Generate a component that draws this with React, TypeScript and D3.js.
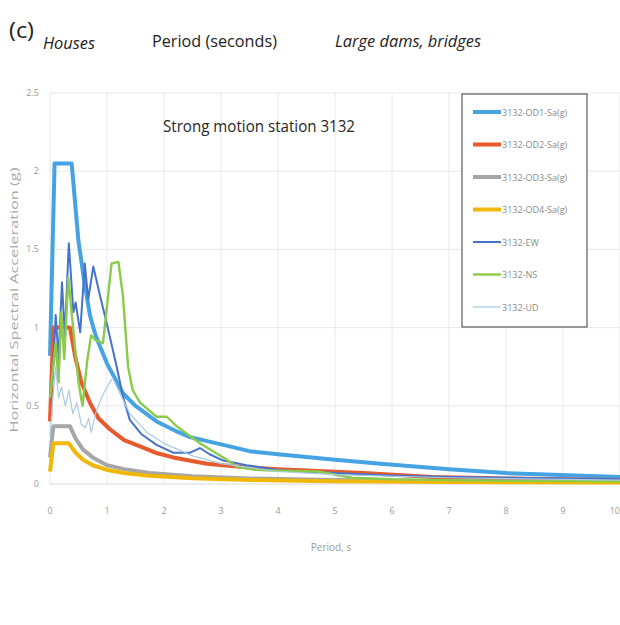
import * as d3 from "d3";
import React, { useEffect, useRef } from "react";

// spectra: [period (s), Sa (g)]
const od1 = [
  [0, 0.82], [0.08, 2.05], [0.38, 2.05], [0.5, 1.55], [0.6, 1.3], [0.7, 1.08], [0.8, 0.95],
  [1.0, 0.77], [1.28, 0.58], [1.5, 0.5], [1.87, 0.4], [2.2, 0.34], [2.46, 0.3], [3.04, 0.25],
  [3.5, 0.21], [4, 0.19], [5, 0.155], [5.8, 0.13], [7, 0.095], [8, 0.07], [8.7, 0.06], [10, 0.045],
];
const od2 = [
  [0, 0.4], [0.06, 1.0], [0.35, 1.0], [0.45, 0.8], [0.55, 0.65], [0.7, 0.52], [0.85, 0.42],
  [1.05, 0.35], [1.3, 0.28], [1.58, 0.24], [1.85, 0.2], [2.16, 0.17], [2.75, 0.13], [3.33, 0.11],
  [4, 0.095], [4.9, 0.08], [5.5, 0.07], [6.7, 0.045], [8, 0.035], [10, 0.025],
];
const od3 = [
  [0, 0.17], [0.06, 0.37], [0.35, 0.37], [0.45, 0.29], [0.58, 0.22], [0.75, 0.17], [1.0, 0.12],
  [1.3, 0.095], [1.75, 0.07], [2.5, 0.05], [3.5, 0.035], [5, 0.025], [7, 0.017], [10, 0.012],
];
const od4 = [
  [0, 0.08], [0.06, 0.26], [0.33, 0.26], [0.45, 0.2], [0.58, 0.155], [0.75, 0.12], [1.0, 0.09],
  [1.3, 0.07], [1.75, 0.052], [2.5, 0.036], [3.5, 0.026], [5, 0.018], [7, 0.013], [10, 0.009],
];
const ew = [
  [0, 0.55], [0.05, 0.7], [0.1, 1.08], [0.15, 0.8], [0.21, 1.29], [0.26, 0.95], [0.33, 1.54],
  [0.41, 1.1], [0.45, 1.16], [0.53, 0.97], [0.61, 1.41], [0.67, 1.18], [0.76, 1.39], [0.88, 1.2],
  [1.0, 1.02], [1.17, 0.75], [1.28, 0.56], [1.4, 0.41], [1.6, 0.32], [1.87, 0.25], [2.16, 0.2],
  [2.46, 0.2], [2.63, 0.23], [2.8, 0.19], [3.04, 0.15], [3.45, 0.12], [4, 0.09], [5, 0.07],
  [6, 0.055], [7, 0.045], [8, 0.04], [9, 0.035], [10, 0.03],
];
const ns = [
  [0, 0.55], [0.1, 0.9], [0.15, 0.65], [0.2, 1.1], [0.25, 0.8], [0.32, 1.32], [0.41, 0.98],
  [0.5, 0.65], [0.57, 0.5], [0.65, 0.78], [0.72, 0.95], [0.8, 0.92], [0.93, 0.9], [1.08, 1.41],
  [1.2, 1.42], [1.28, 1.2], [1.37, 0.75], [1.45, 0.6], [1.58, 0.52], [1.87, 0.43], [2.05, 0.43],
  [2.22, 0.37], [2.63, 0.26], [3.04, 0.17], [3.28, 0.11], [3.6, 0.09], [4, 0.085], [4.7, 0.08],
  [5.3, 0.04], [6, 0.03], [7, 0.025], [8, 0.02], [10, 0.018],
];
const ud = [
  [0, 0.3], [0.05, 0.55], [0.1, 0.75], [0.15, 0.55], [0.2, 0.62], [0.27, 0.5], [0.33, 0.6],
  [0.4, 0.45], [0.47, 0.52], [0.55, 0.38], [0.62, 0.36], [0.68, 0.42], [0.72, 0.33], [0.8, 0.45],
  [0.9, 0.55], [1.0, 0.62], [1.1, 0.68], [1.2, 0.6], [1.4, 0.45], [1.7, 0.33], [2, 0.26],
  [2.5, 0.18], [3, 0.13], [4, 0.08], [5, 0.06], [7, 0.04], [10, 0.025],
];

const seriesNames = [
  "3132-OD1-Sa(g)", "3132-OD2-Sa(g)", "3132-OD3-Sa(g)", "3132-OD4-Sa(g)",
  "3132-EW", "3132-NS", "3132-UD",
];
const seriesData = [od1, od2, od3, od4, ew, ns, ud];
const seriesColors = ["#45a3e3", "#e8592b", "#a6a6a6", "#f1b705", "#4673c8", "#8bcb4c", "#a9c9e6"];
const seriesWidths = [4, 4, 4, 4, 2, 2.4, 1.2];

const xTicks = [0, 1, 2, 3, 4, 5, 6, 7, 8, 9, 10];
const yTicks = [0, 0.5, 1, 1.5, 2, 2.5];
const yTickLabels = ["0", "0.5", "1", "1.5", "2", "2.5"];

export default function App() {
  const svgRef = useRef(null);

  useEffect(() => {
    const W = 620, H = 625;
    const svg = d3.select(svgRef.current).attr("width", W).attr("height", H);
    svg.selectAll("*").remove();

    svg.append("rect").attr("width", W).attr("height", H).attr("fill", "#ffffff");

    const x = d3.scaleLinear().domain([0, 10]).range([50, 620]);
    const y = d3.scaleLinear().domain([0, 2.5]).range([484, 93]);

    // header
    const font = "'Open Sans', 'Liberation Sans', sans-serif";
    svg.append("text").attr("x", 9).attr("y", 38).attr("font-family", font)
      .attr("font-size", 22).attr("fill", "#222")
      .attr("textLength", 25).attr("lengthAdjust", "spacingAndGlyphs").text("(c)");
    svg.append("text").attr("x", 43).attr("y", 49).attr("font-family", font)
      .attr("font-size", 17).attr("font-style", "italic").attr("fill", "#222")
      .attr("textLength", 52).attr("lengthAdjust", "spacingAndGlyphs").text("Houses");
    svg.append("text").attr("x", 152).attr("y", 47).attr("font-family", font)
      .attr("font-size", 17).attr("fill", "#222")
      .attr("textLength", 125).attr("lengthAdjust", "spacingAndGlyphs").text("Period (seconds)");
    svg.append("text").attr("x", 335).attr("y", 47).attr("font-family", font)
      .attr("font-size", 17).attr("font-style", "italic").attr("fill", "#222")
      .attr("textLength", 146).attr("lengthAdjust", "spacingAndGlyphs").text("Large dams, bridges");

    // grid
    const grid = svg.append("g");
    grid.selectAll(".vg").data(xTicks).enter().append("line")
      .attr("x1", (d) => x(d)).attr("x2", (d) => x(d))
      .attr("y1", y(2.5)).attr("y2", y(0))
      .attr("stroke", "#e8e8e8").attr("stroke-width", 1);
    grid.selectAll(".hg").data(yTicks).enter().append("line")
      .attr("x1", x(0)).attr("x2", x(10))
      .attr("y1", (d) => y(d)).attr("y2", (d) => y(d))
      .attr("stroke", (d) => (d === 0 ? "#d8d8d8" : "#e8e8e8")).attr("stroke-width", 1);

    // tick labels
    const tickFont = "'Open Sans', 'Liberation Sans', sans-serif";
    svg.append("g").selectAll("text").data(xTicks).enter().append("text")
      .attr("x", (d) => (d === 10 ? W : x(d))).attr("y", 514)
      .attr("text-anchor", (d) => (d === 10 ? "end" : "middle")).attr("font-family", tickFont)
      .attr("font-size", 9).attr("fill", "#9a9a9a").text((d) => d);
    svg.append("g").selectAll("text").data(yTicks).enter().append("text")
      .attr("x", 39).attr("y", (d) => y(d) + 3)
      .attr("text-anchor", "end").attr("font-family", tickFont)
      .attr("font-size", 9).attr("fill", "#9a9a9a").text((d, i) => yTickLabels[i]);

    svg.append("text").attr("x", 331).attr("y", 551).attr("text-anchor", "middle")
      .attr("font-family", tickFont).attr("font-size", 10).attr("fill", "#9a9a9a").text("Period, s");
    svg.append("text").attr("transform", "translate(18,300) rotate(-90)")
      .attr("text-anchor", "middle").attr("font-family", tickFont)
      .attr("font-size", 11).attr("fill", "#a8a8a8")
      .attr("textLength", 265).attr("lengthAdjust", "spacingAndGlyphs")
      .text("Horizontal Spectral Acceleration (g)");

    // chart title
    svg.append("text").attr("x", 163).attr("y", 132).attr("font-family", font)
      .attr("font-size", 16).attr("fill", "#262626")
      .attr("textLength", 192).attr("lengthAdjust", "spacingAndGlyphs")
      .text("Strong motion station 3132");

    // series
    const line = d3.line()
      .x((d) => x(d[0]))
      .y((d) => y(d[1]))
      .curve(d3.curveLinear);

    const lines = svg.append("g");
    seriesData.forEach((s, i) => {
      lines.append("path")
        .datum(s)
        .attr("fill", "none")
        .attr("stroke", seriesColors[i])
        .attr("stroke-width", seriesWidths[i])
        .attr("stroke-linejoin", "round")
        .attr("d", line);
    });

    // legend
    const lg = svg.append("g").attr("transform", "translate(462,94)");
    lg.append("rect").attr("width", 125).attr("height", 233)
      .attr("fill", "#ffffff").attr("stroke", "#5a5a5a").attr("stroke-width", 1.2);
    seriesNames.forEach((name, i) => {
      const cy = 18 + i * 32.5;
      lg.append("line").attr("x1", 11).attr("x2", 39).attr("y1", cy).attr("y2", cy)
        .attr("stroke", seriesColors[i]).attr("stroke-width", seriesWidths[i]);
      lg.append("text").attr("x", 40).attr("y", cy + 3.5)
        .attr("font-family", tickFont).attr("font-size", 9).attr("fill", "#8a8a8a")
        .text(name);
    });
  }, []);

  return (
    <div style={{ position: "absolute", left: 0, top: 0 }}>
      <svg ref={svgRef}></svg>
    </div>
  );
}
